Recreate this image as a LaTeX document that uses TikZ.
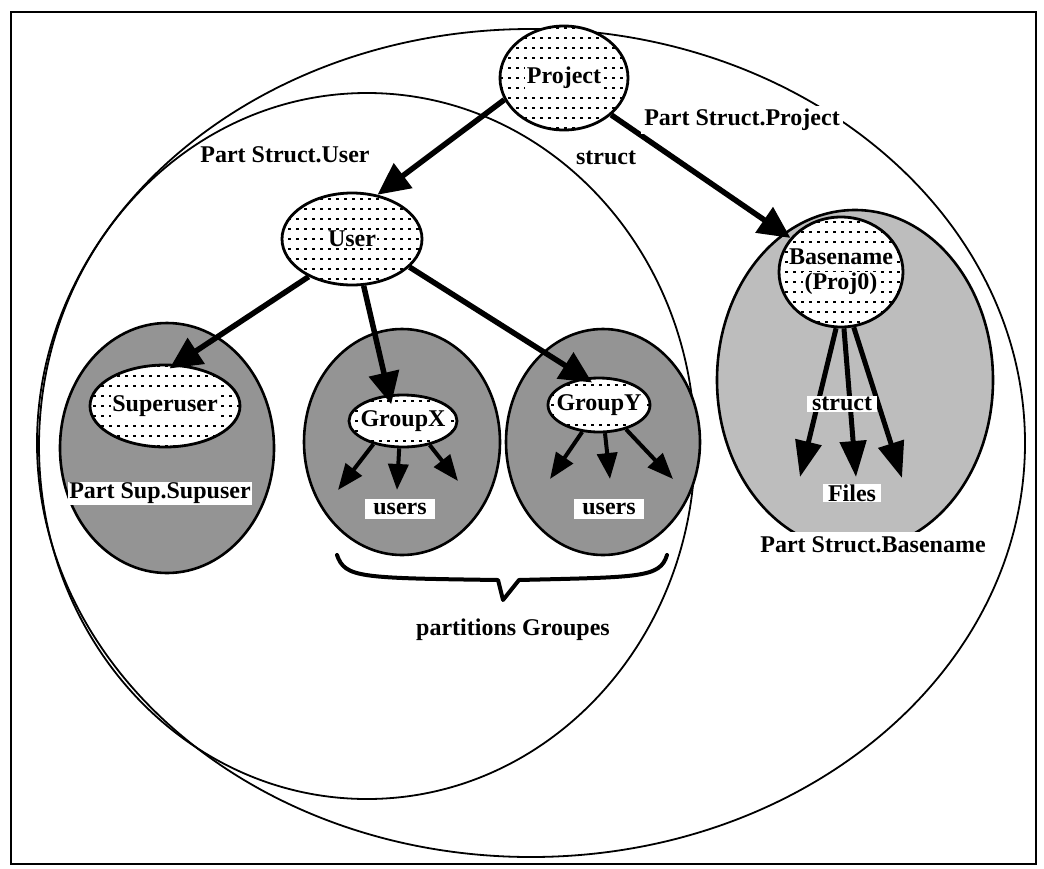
\documentclass[tikz,border=0pt]{standalone}
\usepackage{fontspec}
\setmainfont{Liberation Serif}
\usetikzlibrary{arrows.meta,shapes.geometric}
\definecolor{grpgray}{gray}{0.58}
\definecolor{basegray}{gray}{0.74}
\newcommand\wtxt[1]{\makebox[0pt]{\setlength\fboxsep{1.5pt}\colorbox{white}{#1}}}
\begin{document}
\begin{tikzpicture}[x=1pt,y=-1pt,
  every node/.style={font=\fontsize{24}{28}\selectfont\bfseries},
  bigcirc/.style={draw, line width=1.8pt},
  grp/.style={ellipse, draw, line width=2.6pt, fill=grpgray, inner sep=0pt},
  dots/.style={path picture={
      \foreach \k in {-12,...,12}{
        \draw[line width=1.8pt, dash pattern=on 3pt off 5pt]
          ([xshift=-200pt,yshift=\k*10pt]path picture bounding box.center) -- ++(400pt,0pt);}}},
  dotnode/.style={ellipse, draw, line width=2.8pt, fill=white, inner sep=0pt, dots},
  wlab/.style={fill=white, inner sep=2pt},
  bigarrow/.style={line width=5.5pt, -{Triangle[length=32pt,width=30pt]}},
  smallarrow/.style={line width=4pt, -{Triangle[length=26pt,width=20pt]}},
  filearrow/.style={line width=5pt, -{Triangle[length=36pt,width=26pt]}}
]
\useasboundingbox (0,0) rectangle (1044,868);
\draw[line width=2.5pt] (11,12) rectangle (1036,864);

% partition circles
\draw[bigcirc] (531,443) ellipse [x radius=494pt, y radius=414pt];
\draw[bigcirc] (367,446) ellipse [x radius=328pt, y radius=353pt];

% shaded partitions
\node[grp, minimum width=214pt, minimum height=250pt] (SupPart) at (167,448) {};
\node[grp, minimum width=196pt, minimum height=226pt] (XPart) at (402,442) {};
\node[grp, minimum width=194pt, minimum height=226pt] (YPart) at (603,442) {};
\node[ellipse, draw, line width=2.6pt, fill=basegray, inner sep=0pt,
      minimum width=276pt, minimum height=340pt] (BasePart) at (855,380) {};

% dotted nodes
\node[dotnode, minimum width=128pt, minimum height=104pt] (Project) at (564,78) {\wtxt{Project}};
\node[dotnode, minimum width=140pt, minimum height=92pt] (User) at (352,239) {\wtxt{User}};
\node[dotnode, minimum width=150pt, minimum height=82pt] (Superuser) at (165,406) {\wtxt{Superuser}};
\node[dotnode, minimum width=108pt, minimum height=52pt] (GroupX) at (403,421) {\wtxt{GroupX}};
\node[dotnode, minimum width=102pt, minimum height=54pt] (GroupY) at (599,405) {\wtxt{GroupY}};
\node[dotnode, minimum width=124pt, minimum height=110pt] (Basename) at (841,272)
  {\makebox[0pt]{\shortstack{\wtxt{Basename}\\[2pt]\wtxt{(Proj0)}}}};

% main arrows
\draw[bigarrow] (Project.200) -- (User.60);
\draw[bigarrow] (Project.322) -- (Basename.146);
\draw[bigarrow, shorten >=-8pt] (User.221) -- (Superuser.75);
\draw[bigarrow, shorten >=-10pt] (User.284) -- (GroupX.118);
\draw[bigarrow, shorten >=-9pt] (User.334) -- (GroupY.118);

% users arrows
\coordinate (x1) at (338,490);
\coordinate (x2) at (397,490);
\coordinate (x3) at (458,481);
\coordinate (y1) at (550,479);
\coordinate (y2) at (610,479);
\coordinate (y3) at (673,479);
\draw[smallarrow] (GroupX.218) -- (x1);
\draw[smallarrow] (GroupX.262) -- (x2);
\draw[smallarrow] (GroupX.318) -- (x3);
\draw[smallarrow] (GroupY.238) -- (y1);
\draw[smallarrow] (GroupY.282) -- (y2);
\draw[smallarrow] (GroupY.318) -- (y3);

% files arrows
\coordinate (f1) at (800,477);
\coordinate (f2) at (856,477);
\coordinate (f3) at (902,478);
\draw[filearrow] (Basename.265) -- (f1);
\draw[filearrow] (Basename.273) -- (f2);
\draw[filearrow] (Basename.283) -- (f3);

% brace
\coordinate (b1) at (337,555);
\coordinate (b2) at (498,580);
\coordinate (bt) at (503,600);
\coordinate (b3) at (519,580);
\coordinate (b4) at (667,555);
\draw[line width=4pt, line join=round, line cap=round]
  (b1) .. controls (345,578) and (360,578) .. (b2) -- (bt) -- (b3)
  .. controls (640,577) and (660,578) .. (b4);

% labels
\node (lUser) at (285,155) {Part Struct.User};
\node[wlab, inner sep=1pt] (lstruct1) at (606,158) {struct};
\node[wlab, inner sep=3pt] (lProject) at (742,120) {Part Struct.Project};
\node[wlab, inner sep=1pt] (lSup) at (160,493) {Part Sup.Supuser};
\node[wlab, inner xsep=8pt, inner ysep=4pt] (usersX) at (400,509) {users};
\node[wlab, inner xsep=8pt, inner ysep=4pt] (usersY) at (609,509) {users};
\node[wlab, inner xsep=5pt, inner ysep=1pt] (lstruct2) at (842,404) {struct};
\node[wlab, inner xsep=5pt, inner ysep=1pt] (lFiles) at (852,493) {Files};
\node[wlab, inner xsep=2pt, inner ysep=5pt] (lBase) at (873,545) {Part Struct.Basename};
\node (lGroupes) at (513,630) {partitions Groupes};
\end{tikzpicture}
\end{document}
